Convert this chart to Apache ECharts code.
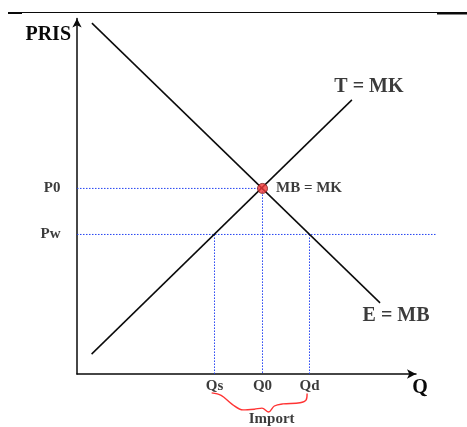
<!DOCTYPE html>
<html>
<head>
<meta charset="utf-8">
<script src="https://cdn.jsdelivr.net/npm/echarts@6/dist/echarts.min.js"></script>
<style>
  html, body { margin: 0; padding: 0; background: #ffffff; }
  #chart { width: 467px; height: 427px; }
</style>
</head>
<body>
<div id="chart"></div>
<script>
// Market model: demand (E = MB) and domestic supply (T = MK), world price Pw
const demandCurve = [[4.4, 98.7], [89.4, 20.0]];
const supplyCurve = [[4.3, 5.6], [81.1, 77.1]];
const priceTicks = ['P0', 'Pw'];
const priceValues = [52.2, 39.25];
const quantityTicks = ['Qs', 'Q0', 'Qd'];
const quantityValues = [40.56, 54.72, 68.58];

const P0 = priceValues[0], Pw = priceValues[1];
const Qs = quantityValues[0], Q0 = quantityValues[1], Qd = quantityValues[2];
const equilibrium = [Q0, P0];

// World-price guide runs a little past the end of the quantity axis
const PW_GUIDE_END = 106.2;

// Hand-drawn brace under the import gap: [fraction from Qs to Qd, depth below axis]
const braceProfile = [
  [-0.03, -5.3], [0.07, -6.0], [0.19, -8.6], [0.30, -10.1], [0.42, -9.9],
  [0.50, -9.6], [0.57, -10.7], [0.63, -9.0], [0.72, -8.4], [0.90, -8.1],
  [0.965, -7.3], [0.975, -5.5]
];
const braceData = braceProfile.map(([t, d]) => [Qs + t * (Qd - Qs), d]);
const braceTip = braceData[6];

const FONT = "'Liberation Serif', 'Times New Roman', serif";
const INK = '#0a0a0a';
const txt = (size) => ({ fontFamily: FONT, fontWeight: 'bold', fontSize: size, color: INK });

const GUIDE_COLOR = '#2443f2';
const guideStyle = { color: GUIDE_COLOR, width: 1, type: [1.5, 1.5] };
const guide = (pts) => ({
  type: 'line', data: pts, symbol: 'none', silent: true, clip: false,
  lineStyle: guideStyle, z: 1
});

const chart = echarts.init(document.getElementById('chart'), null, { renderer: 'canvas' });

chart.setOption({
  animation: false,
  backgroundColor: '#ffffff',
  grid: { left: 77, right: 51, top: 18.5, bottom: 53, containLabel: false },
  xAxis: {
    type: 'value', min: 0, max: 100,
    name: 'Q', nameLocation: 'end', nameGap: 4,
    nameTextStyle: Object.assign(txt(20), { align: 'center', verticalAlign: 'top', padding: [4, 0, 0, 0] }),
    axisLine: { show: true, symbol: ['none', 'arrow'], symbolSize: [7, 9], lineStyle: { color: INK, width: 1.5 } },
    axisTick: { show: false }, axisLabel: { show: false }, splitLine: { show: false }
  },
  yAxis: {
    type: 'value', min: 0, max: 100,
    name: 'PRIS', nameLocation: 'end', nameGap: -16.5,
    nameTextStyle: Object.assign(txt(20), { align: 'right', verticalAlign: 'middle', padding: [0, 6, 0, 0] }),
    axisLine: { show: true, symbol: ['none', 'arrow'], symbolSize: [7, 9], lineStyle: { color: INK, width: 1.5 } },
    axisTick: { show: false }, axisLabel: { show: false }, splitLine: { show: false }
  },
  series: [
    // dotted guides
    guide([[0, P0], [Q0, P0]]),
    guide([[Q0, P0], [Q0, 0]]),
    guide([[Qs, Pw], [Qs, 0]]),
    guide([[Qd, Pw], [Qd, 0]]),
    // demand and supply
    {
      type: 'line', name: 'E = MB', data: demandCurve, symbol: 'none', silent: true,
      lineStyle: { color: INK, width: 1.5 }, z: 3
    },
    {
      type: 'line', name: 'T = MK', data: supplyCurve, symbol: 'none', silent: true,
      lineStyle: { color: INK, width: 1.5 }, z: 3
    },
    // import brace
    {
      type: 'line', data: braceData, symbol: 'none', smooth: 0.35, silent: true, clip: false,
      lineStyle: { color: '#ff3434', width: 1.4 }, z: 3
    },
    // equilibrium point
    {
      type: 'scatter', data: [equilibrium], symbolSize: 10, silent: true, z: 5,
      itemStyle: { color: '#f23a3a', borderColor: '#7a1c1c', borderWidth: 1 },
      label: Object.assign(txt(15), { show: true, formatter: 'MB = MK', position: 'right', distance: 8 })
    },
    // text labels
    {
      type: 'scatter', symbolSize: 1, silent: true, z: 6, clip: false,
      itemStyle: { color: 'rgba(0,0,0,0)' },
      label: Object.assign(txt(15), { show: true }),
      data: [].concat(
        priceTicks.map((name, i) => ({
          value: [0, priceValues[i]],
          label: { formatter: name, position: 'left', distance: 16 }
        })),
        quantityTicks.map((name, i) => ({
          value: [quantityValues[i], 0],
          label: { formatter: name, position: 'bottom', distance: 4 }
        })),
        [
          { value: supplyCurve[1], label: Object.assign(txt(20), { formatter: 'T = MK', position: 'top', offset: [17, 0], distance: 3 }) },
          { value: demandCurve[1], label: Object.assign(txt(20), { formatter: 'E = MB', position: 'bottom', offset: [16, 0], distance: 2 }) },
          { value: braceTip, label: Object.assign(txt(15), { formatter: 'Import', position: 'bottom', offset: [3, -1], distance: 0 }) }
        ]
      )
    }
  ]
});

// Page rule across the top, and the world-price guide that runs past the axis end
const a = chart.convertToPixel({ gridIndex: 0 }, [0, Pw]);
const b = chart.convertToPixel({ gridIndex: 0 }, [PW_GUIDE_END, Pw]);
chart.setOption({
  graphic: [
    { type: 'line', silent: true, shape: { x1: 8, y1: 12.5, x2: 467, y2: 12.5 }, style: { stroke: INK, lineWidth: 1 } },
    { type: 'line', silent: true, shape: { x1: 8, y1: 13, x2: 22, y2: 13 }, style: { stroke: INK, lineWidth: 2 } },
    { type: 'line', silent: true, shape: { x1: 437, y1: 13.5, x2: 467, y2: 13.5 }, style: { stroke: INK, lineWidth: 2 } },
    {
      type: 'line', silent: true, z: 1,
      shape: { x1: a[0], y1: a[1], x2: b[0], y2: b[1] },
      style: { stroke: GUIDE_COLOR, lineWidth: 1, lineDash: [1.5, 1.5] }
    }
  ]
});
</script>
</body>
</html>
